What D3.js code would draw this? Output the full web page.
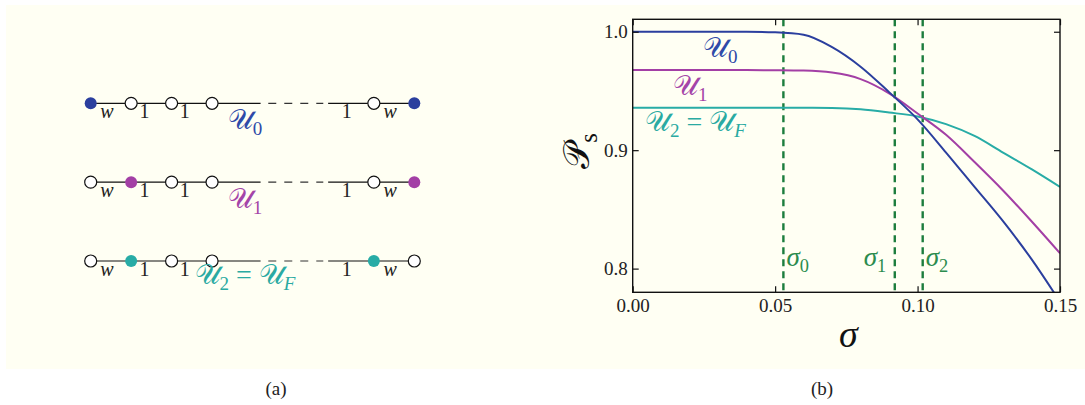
<!DOCTYPE html>
<html>
<head>
<meta charset="utf-8">
<script src="https://cdn.jsdelivr.net/npm/d3@7"></script>
<style>
  body { margin: 0; background: #fff; }
  text { font-family: "Liberation Serif", "DejaVu Serif", serif; }
</style>
</head>
<body>
<div id="chart"></div>
<script>
// ---- data ----
var sigma = [0, 0.02, 0.04, 0.05, 0.06, 0.07, 0.08, 0.09, 0.10, 0.11, 0.12, 0.13, 0.14, 0.15];
var u0 = [1.0, 1.0, 1.0, 0.9995, 0.9975, 0.987, 0.9705, 0.949, 0.926, 0.898, 0.869, 0.840, 0.808, 0.772];
var u1 = [0.9676, 0.9676, 0.9676, 0.9675, 0.9672, 0.9655, 0.960, 0.948, 0.931, 0.913, 0.890, 0.866, 0.840, 0.813];
var u2 = [0.9358, 0.9358, 0.9358, 0.9358, 0.9358, 0.9356, 0.9345, 0.9318, 0.9285, 0.922, 0.912, 0.898, 0.884, 0.869];
var sigmaMarks = [0.0529, 0.092, 0.1018];
var sigmaNames = ["0", "1", "2"];
var xTicks = [0, 0.05, 0.10, 0.15];
var yTicks = [0.8, 0.9, 1.0];

// chain diagrams (panel a)
var nodeIdx = [0, 1, 2, 3, 7, 8];
var filledNodes = [[0, 8], [1, 8], [1, 7]];
var bonds = [[0, 1, "w"], [1, 2, "1"], [2, 3, "1"], [6, 7, "1"], [7, 8, "w"]];

var blue = "#2b3f9e", magenta = "#a33fa5", teal = "#28aca6", green = "#1c7d3d";
var rowColors = [blue, magenta, teal];

var width = 1085, height = 405;

var svg = d3.select("#chart").append("svg")
  .attr("width", width)
  .attr("height", height);

svg.append("rect").attr("width", width).attr("height", height).attr("fill", "#fff");
svg.append("rect")
  .attr("x", 6).attr("y", 5)
  .attr("width", width - 6).attr("height", 364)
  .attr("fill", "#fffff3");

// little helper for "math" labels with subscripts
function mathText(sel, x, y, parts, size, color, anchor) {
  var t = sel.append("text")
    .attr("x", x).attr("y", y)
    .attr("fill", color)
    .attr("font-size", size)
    .attr("text-anchor", anchor || "start");
  var shift = 0;
  parts.forEach(function(p) {
    var s = t.append("tspan").text(p.t);
    var want = p.sub ? size * 0.22 : 0;
    if (want !== shift) { s.attr("dy", want - shift); shift = want; }
    if (p.sub) s.attr("font-size", size * 0.68);
    if (p.it) s.attr("font-style", "italic");
  });
  return t;
}

// ---------------- panel (a) ----------------
var xi = d3.scaleLinear().domain([0, 8]).range([90.7, 414.3]);
var yr = d3.scaleLinear().domain([0, 2]).range([103.3, 261]);

var chains = svg.append("g");
[0, 1, 2].forEach(function(r) {
  var g = chains.append("g");
  var y = yr(r);
  // solid part on the left, dashed middle, solid right
  g.append("line").attr("x1", xi(0)).attr("x2", xi(4.2)).attr("y1", y).attr("y2", y)
    .attr("stroke", "#111").attr("stroke-width", 1.2);
  g.append("line").attr("x1", xi(4.39)).attr("x2", xi(5.75)).attr("y1", y).attr("y2", y)
    .attr("stroke", "#333").attr("stroke-width", 1.2).attr("stroke-dasharray", "8,8");
  g.append("line").attr("x1", xi(5.87)).attr("x2", xi(8)).attr("y1", y).attr("y2", y)
    .attr("stroke", "#111").attr("stroke-width", 1.2);

  // bond labels
  g.selectAll("text.bond").data(bonds).enter().append("text")
    .attr("class", "bond")
    .attr("x", function(d) { return (xi(d[0]) + xi(d[1])) / 2 - (d[2] === "w" ? 4 : 7); })
    .attr("y", y + 15)
    .attr("text-anchor", "middle")
    .attr("font-size", 20)
    .attr("font-style", function(d) { return d[2] === "w" ? "italic" : null; })
    .attr("fill", "#222")
    .text(function(d) { return d[2]; });

  // nodes
  g.selectAll("circle").data(nodeIdx).enter().append("circle")
    .attr("cx", function(d) { return xi(d); })
    .attr("cy", y)
    .attr("r", 6)
    .attr("fill", function(d) { return filledNodes[r].indexOf(d) >= 0 ? rowColors[r] : "#fff"; })
    .attr("stroke", function(d) { return filledNodes[r].indexOf(d) >= 0 ? "none" : "#111"; })
    .attr("stroke-width", 1.2);
});

var uA = [
  [{t: "\uD835\uDCB0"}, {t: "0", sub: true}],
  [{t: "\uD835\uDCB0"}, {t: "1", sub: true}],
  [{t: "\uD835\uDCB0"}, {t: "2", sub: true}, {t: " = "}, {t: "\uD835\uDCB0"}, {t: "F", sub: true, it: true}]
];
var uLabelColors = ["#2f4aa8", "#a445a8", "#2aaaa2"];
mathText(svg, 245, yr(0) + 26, uA[0], 28, uLabelColors[0], "middle");
mathText(svg, 245, yr(1) + 26, uA[1], 28, uLabelColors[1], "middle");
mathText(svg, 245, yr(2) + 23, uA[2], 28, uLabelColors[2], "middle");

svg.append("text").attr("x", 276).attr("y", 395).attr("text-anchor", "middle")
  .attr("font-size", 19).attr("fill", "#222").text("(a)");

// ---------------- panel (b) ----------------
var x = d3.scaleLinear().domain([0, 0.15]).range([632.7, 1060]);
var y = d3.scaleLinear().domain([0.78, 1.0105]).range([292.3, 19.3]);

var plot = svg.append("g");

plot.append("clipPath").attr("id", "clip").append("rect")
  .attr("x", x(0)).attr("y", y(1.0105))
  .attr("width", x(0.15) - x(0)).attr("height", y(0.78) - y(1.0105));

var line = d3.line()
  .x(function(d) { return x(d[0]); })
  .y(function(d) { return y(d[1]); })
  .curve(d3.curveMonotoneX);

// dashed sigma markers
plot.selectAll("line.mark").data(sigmaMarks).enter().append("line")
  .attr("class", "mark")
  .attr("x1", function(d) { return x(d); }).attr("x2", function(d) { return x(d); })
  .attr("y1", y(1.0105)).attr("y2", y(0.78))
  .attr("stroke", green).attr("stroke-width", 2.4)
  .attr("stroke-dasharray", "7,5");

var series = [[u2, teal], [u1, magenta], [u0, blue]];
series.forEach(function(s) {
  plot.append("path")
    .datum(sigma.map(function(v, i) { return [v, s[0][i]]; }))
    .attr("clip-path", "url(#clip)")
    .attr("fill", "none")
    .attr("stroke", s[1])
    .attr("stroke-width", 2)
    .attr("d", line);
});

// axes, ticks inward on all sides
var axB = plot.append("g").attr("transform", "translate(0," + y(0.78) + ")")
  .call(d3.axisBottom(x).tickValues(xTicks).tickSize(-6).tickSizeOuter(0).tickPadding(6)
    .tickFormat(d3.format(".2f")));
var axT = plot.append("g").attr("transform", "translate(0," + y(1.0105) + ")")
  .call(d3.axisTop(x).tickValues(xTicks).tickSize(-6).tickSizeOuter(0).tickFormat(""));
var axL = plot.append("g").attr("transform", "translate(" + x(0) + ",0)")
  .call(d3.axisLeft(y).tickValues(yTicks).tickSize(-6).tickSizeOuter(0).tickPadding(5)
    .tickFormat(d3.format(".1f")));
var axR = plot.append("g").attr("transform", "translate(" + x(0.15) + ",0)")
  .call(d3.axisRight(y).tickValues(yTicks).tickSize(-6).tickSizeOuter(0).tickFormat(""));

[axB, axT, axL, axR].forEach(function(a) {
  a.select(".domain").remove();
  a.selectAll(".tick line").attr("stroke", "#111").attr("stroke-width", 1.2);
  a.selectAll("text").attr("font-family", "Liberation Serif, serif").attr("font-size", 19).attr("fill", "#222");
});

plot.append("rect")
  .attr("x", x(0)).attr("y", y(1.0105))
  .attr("width", x(0.15) - x(0)).attr("height", y(0.78) - y(1.0105))
  .attr("fill", "none").attr("stroke", "#111").attr("stroke-width", 1.4);

// curve labels
mathText(plot, 703, 57, uA[0], 28, uLabelColors[0], "start");
mathText(plot, 673, 95, uA[1], 28, uLabelColors[1], "start");
mathText(plot, 645, 131, uA[2], 28, uLabelColors[2], "start");

// sigma labels next to the dashed lines
sigmaMarks.forEach(function(m, i) {
  var xs = i === 1 ? x(m) - 31 : x(m) + 3;
  mathText(plot, xs, 266, [{t: "\u03C3", it: true}, {t: sigmaNames[i], sub: true}], 27, "#2b8c4e", "start");
});

// axis titles
mathText(svg, x(0.075) + 2, 347, [{t: "\u03C3", it: true}], 38, "#111", "middle");
mathText(svg.append("g").attr("transform", "translate(589,151) rotate(-90)"), 0, 0,
  [{t: "\uD835\uDCAB"}, {t: "s", sub: true}], 36, "#111", "middle");

svg.append("text").attr("x", 822).attr("y", 395).attr("text-anchor", "middle")
  .attr("font-size", 19).attr("fill", "#222").text("(b)");
</script>
</body>
</html>
